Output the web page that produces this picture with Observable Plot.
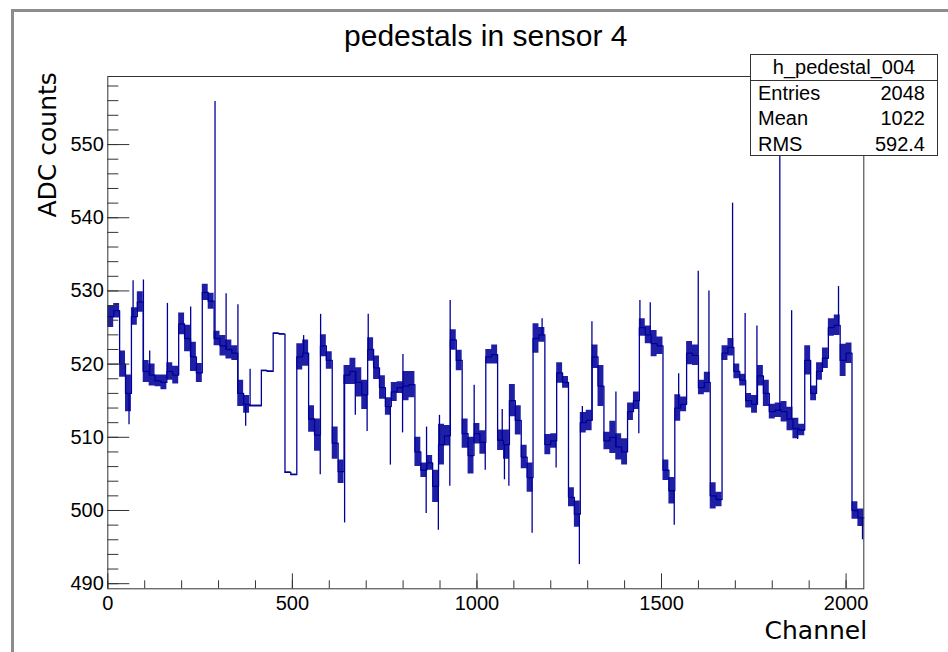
<!DOCTYPE html>
<html>
<head>
<meta charset="utf-8">
<script src="https://cdn.jsdelivr.net/npm/d3@7"></script>
<script src="https://cdn.jsdelivr.net/npm/@observablehq/plot@0.6"></script>
<style>
  html, body { margin: 0; padding: 0; background: #fff; }
  #wrap { position: relative; width: 948px; height: 652px; overflow: hidden; background: #fff; }
  #wrap svg { position: absolute; left: 0; top: 0; }
  #border { position: absolute; left: 11px; top: 9px; width: 2000px; height: 2000px;
            border-left: 3px solid #8c8c8c; border-top: 3px solid #8c8c8c; pointer-events: none; }
  #stats { position: absolute; left: 750px; top: 54px; width: 186px; height: 100px;
           border: 1px solid #333; background: #fff; font-family: "Liberation Sans", Arial, sans-serif;
           font-size: 20px; color: #000; }
  #stats .t { position: absolute; left: 0; right: 0; text-align: center; line-height: 20px; white-space: nowrap; }
  #stats .sep { position: absolute; left: 0; right: 0; top: 25px; height: 1px; background: #333; }
  #stats .l { position: absolute; left: 7px; line-height: 20px; white-space: nowrap; }
  #stats .v { position: absolute; right: 12px; line-height: 20px; white-space: nowrap; text-align: right; }
</style>
</head>
<body>
<div id="wrap"><div id="border"></div></div>
<script>
// ---- data ----
const channelsPerBin = 16;
const nChannels = 2048;
// mean pedestal per 16-channel bin (ADC counts)
const pedestal = [
  526.5, 527.3, 520.0, 516.0, 526.5, 528.5, 519.0, 518.5, 517.7, 517.5, 519.0, 518.5, 525.5, 523.5, 521.0, 518.8,
  529.8, 528.6, 523.5, 522.5, 522.0, 521.5, 516.0, 514.5, 514.3, 514.3, 519.1, 519.0, 524.2, 524.1, 505.2, 504.9,
  521.0, 521.5, 512.5, 510.3, 522.5, 520.5, 509.2, 505.3, 518.5, 519.0, 517.5, 515.8, 522.0, 519.5, 516.8, 514.2,
  516.2, 516.8, 517.0, 517.2, 508.0, 505.5, 506.5, 503.3, 509.0, 510.2, 523.3, 520.5, 510.5, 507.5, 510.5, 509.3,
  521.0, 521.3, 509.6, 509.0, 515.0, 512.3, 507.3, 504.5, 523.5, 524.0, 509.0, 509.5, 518.8, 517.5, 501.8, 499.5,
  512.0, 512.3, 521.0, 517.0, 509.5, 510.0, 508.7, 508.0, 513.5, 515.0, 525.0, 524.0, 522.8, 522.5, 505.5, 502.7,
  514.0, 514.5, 521.5, 521.2, 516.8, 517.5, 502.0, 501.5, 521.5, 522.3, 519.0, 517.8, 515.0, 514.5, 518.4, 516.0,
  513.5, 513.7, 513.5, 512.5, 511.2, 511.0, 520.5, 516.0, 519.0, 520.8, 525.0, 525.3, 520.5, 521.5, 500.0, 499.0
];
// half-width of the channel-to-channel noise band in each bin
const noise = [
  1.5, 1.0, 1.8, 2.5, 1.2, 1.4, 1.5, 1.5, 0.8, 1.0, 1.2, 1.2, 1.5, 1.8, 2.0, 1.3,
  1.1, 1.1, 1.0, 1.4, 1.3, 1.0, 1.8, 1.2, 0.1, 0.1, 0.1, 0.1, 0.1, 0.1, 0.1, 0.1,
  1.8, 1.8, 1.8, 2.2, 1.5, 1.2, 2.2, 1.6, 1.3, 1.8, 2.0, 2.0, 1.6, 1.6, 1.6, 1.2,
  1.3, 0.8, 2.0, 1.8, 2.0, 1.0, 1.0, 2.2, 2.8, 1.4, 1.4, 1.4, 2.0, 2.5, 1.4, 1.6,
  1.0, 1.3, 1.4, 2.0, 2.2, 2.0, 1.6, 2.0, 2.0, 1.0, 1.4, 1.0, 1.4, 0.8, 1.3, 1.8,
  1.4, 1.4, 1.6, 2.8, 1.2, 2.2, 1.8, 1.8, 1.2, 1.2, 1.2, 1.2, 1.8, 1.2, 1.4, 1.8,
  1.8, 1.0, 1.6, 1.4, 1.0, 1.4, 1.8, 1.0, 1.0, 1.2, 1.0, 0.8, 1.0, 1.2, 1.4, 1.8,
  1.0, 1.0, 1.4, 1.6, 1.4, 0.8, 2.0, 1.0, 1.2, 1.4, 1.2, 1.4, 2.2, 1.4, 1.2, 1.2
];
// single-channel outliers
const spikeChannels = [57, 68, 96, 113, 161, 224, 290, 320, 352, 373, 385, 530, 575, 576, 641, 670,
  702, 705, 765, 798, 799, 862, 863, 895, 898, 926, 927, 992, 1022, 1068, 1074, 1086,
  1149, 1176, 1214, 1277, 1285, 1311, 1376, 1438, 1441, 1469, 1534, 1546, 1599, 1628,
  1692, 1726, 1758, 1820, 1852, 1868, 1979, 2044];
const spikeValues = [511.7, 531.4, 531.5, 521.8, 528.3, 527.8, 555.9, 529.6, 528.1, 511.5, 519.3, 523.9, 504.9, 526.8, 498.3, 513.0,
  510.8, 526.8, 506.2, 510.6, 521.3, 499.6, 511.4, 497.3, 513.0, 503.3, 528.7, 517.1, 505.5, 513.8, 504.2, 503.3,
  496.9, 526.2, 505.8, 492.6, 514.2, 525.8, 516.2, 510.5, 528.7, 528.4, 498.0, 518.7, 532.7, 530.0,
  542.0, 526.9, 525.2, 556.0, 527.3, 509.7, 530.6, 496.0];

const xMajor = [0, 500, 1000, 1500, 2000];
const xMinor = d3.range(0, 2001, 100);
const yMajor = [490, 500, 510, 520, 530, 540, 550];
const yMinor = d3.range(490, 559, 2);

const titleText = "pedestals in sensor 4";
const xTitle = "Channel";
const yTitle = "ADC counts";
const statsName = "h_pedestal_004";
const statLabels = ["Entries", "Mean", "RMS"];
const statValues = ["2048", "1022", "592.4"];

// ---- build tables ----
const rows = pedestal.map((v, i) => ({ch: i * channelsPerBin, v, lo: v - noise[i], hi: v + noise[i]}));
const last = rows[rows.length - 1];
rows.push({ch: nChannels, v: last.v, lo: last.lo, hi: last.hi});
const spikes = spikeChannels.map((c, i) => ({ch: c + 0.5, base: pedestal[Math.floor(c / channelsPerBin)], v: spikeValues[i]}));

const blue = "#000099";
const plot = Plot.plot({
  width: 948,
  height: 652,
  marginLeft: 107.3,
  marginRight: 84.7,
  marginTop: 76,
  marginBottom: 63.7,
  style: {background: "transparent", fontFamily: "'Liberation Sans', Arial, sans-serif", fontSize: "20px", color: "#000"},
  x: {domain: [0, nChannels]},
  y: {domain: [489.3, 559.3]},
  marks: [
    Plot.areaY(rows, {x: "ch", y1: "lo", y2: "hi", curve: "step-after", fill: blue, fillOpacity: 0.88}),
    Plot.lineY(rows, {x: "ch", y: "v", curve: "step-after", stroke: blue, strokeWidth: 1.3}),
    Plot.ruleX(spikes, {x: "ch", y1: "base", y2: "v", stroke: blue, strokeWidth: 1.3}),
    Plot.frame({stroke: "#333", strokeWidth: 1}),
    Plot.axisY(yMinor, {anchor: "left", tickSize: -11, tickFormat: () => "", stroke: "#333", label: null}),
    Plot.axisY(yMajor, {anchor: "left", tickSize: -22, tickPadding: 26, tickFormat: d => String(d), stroke: "#333", fontSize: 20, label: null}),
    Plot.axisX(xMinor, {anchor: "bottom", tickSize: -8, tickFormat: () => "", stroke: "#333", label: null}),
    Plot.axisX(xMajor, {anchor: "bottom", tickSize: -15, tickPadding: 22, tickFormat: d => String(d), stroke: "#333", fontSize: 20, label: null}),
    Plot.text([titleText], {frameAnchor: "top", dy: -31, lineAnchor: "bottom", fontSize: 30, fill: "#000"}),
    Plot.text([xTitle], {frameAnchor: "bottom-right", textAnchor: "end", lineAnchor: "bottom", dx: 3.4, dy: 50, fontSize: 25, fontFamily: "'DejaVu Sans', sans-serif", fill: "#000"}),
    Plot.text([yTitle], {frameAnchor: "top-left", textAnchor: "end", lineAnchor: "bottom", rotate: -90, dx: -52.3, dy: -4.3, fontSize: 25, fontFamily: "'DejaVu Sans', sans-serif", fill: "#000"})
  ]
});
const wrap = document.getElementById("wrap");
wrap.insertBefore(plot, document.getElementById("border"));

// stats box (legend-like overlay)
const box = document.createElement("div");
box.id = "stats";
const head = document.createElement("div");
head.className = "t"; head.style.top = "1.7px"; head.textContent = statsName;
box.appendChild(head);
const sep = document.createElement("div"); sep.className = "sep"; box.appendChild(sep);
const rowTops = [28.4, 53.4, 79.1];
statLabels.forEach((lab, i) => {
  const l = document.createElement("div"); l.className = "l"; l.style.top = rowTops[i] + "px"; l.textContent = lab;
  const v = document.createElement("div"); v.className = "v"; v.style.top = rowTops[i] + "px"; v.textContent = statValues[i];
  box.appendChild(l); box.appendChild(v);
});
wrap.appendChild(box);
</script>
</body>
</html>
